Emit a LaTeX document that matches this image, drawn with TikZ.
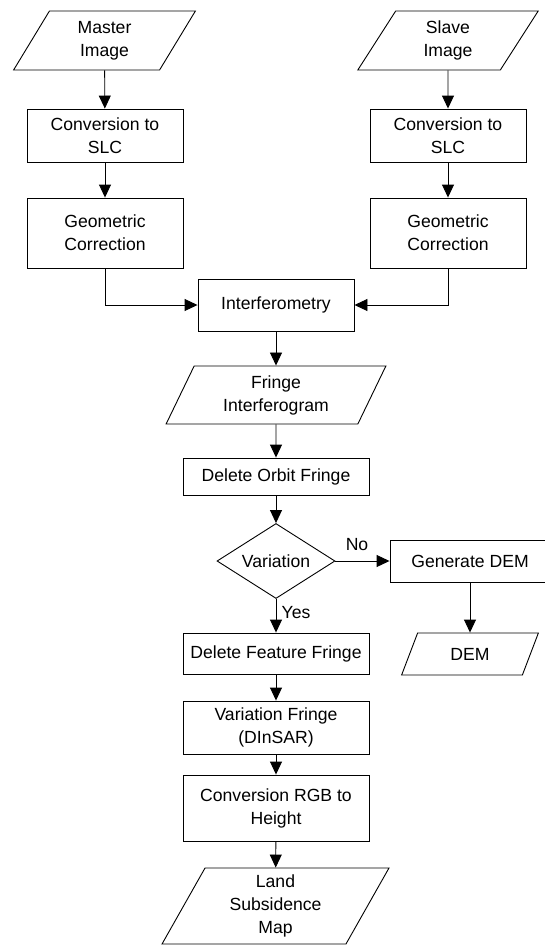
\documentclass[tikz,border=0pt]{standalone}
\usepackage{fontspec}
\setmainfont{Liberation Sans}
\usetikzlibrary{shapes.geometric,arrows.meta}

\begin{document}
\begin{tikzpicture}[x=1pt,y=-1pt,line width=0.9pt,
    every node/.style={font=\fontsize{17.6}{23}\selectfont,align=center,inner sep=1pt},
    proc/.style={rectangle,draw,minimum width=#1},
    io/.style={trapezium,draw,trapezium left angle=66,trapezium right angle=114,trapezium stretches=true,minimum width=#1},
    dec/.style={diamond,draw,aspect=1.6,minimum width=118pt,minimum height=75pt},
    arr/.style={-{Triangle[length=13pt,width=12pt]}}]
    \useasboundingbox (0,0) rectangle (544,945);

    \node[io=183pt,minimum height=59pt] (M) at (104.5,40.5) {Master\\Image};
    \node[io=182pt,minimum height=59pt] (S) at (448,40.5) {Slave\\Image};

    \node[proc=156pt,minimum height=53pt] (C) at (105,135.5) {Conversion to\\SLC};
    \node[proc=156pt,minimum height=53pt] (C1) at (448,135.5) {Conversion to\\SLC};

    \node[proc=156pt,minimum height=70pt] (G) at (105,233) {Geometric\\Correction};
    \node[proc=156pt,minimum height=70pt] (G1) at (448,233) {Geometric\\Correction};

    \node[proc=156pt,minimum height=52pt] (I) at (276,305) {Interferometry};
    \node[io=220pt,minimum height=58pt] (F) at (276,395) {Fringe\\Interferogram};
    \node[proc=186pt,minimum height=37pt] (O) at (276,476.5) {Delete Orbit Fringe};
    \node[dec] (V) at (276,561) {Variation};

    \node[proc=160pt,minimum height=42pt] (E) at (470,561) {Generate DEM};
    \node[io=137pt,minimum height=42pt] (D) at (470,654) {DEM};

    \node[proc=186pt,minimum height=41pt] (R) at (276,653.5) {Delete Feature Fringe};
    \node[proc=186pt,minimum height=53pt] (P) at (276,727.5) {Variation Fringe\\(DInSAR)};
    \node[proc=186pt,minimum height=66pt] (H) at (276,808) {Conversion RGB to\\Height};
    \node[io=227pt,minimum height=76pt] (L) at (275.5,906) {Land\\Subsidence\\Map};

    \node (no) at (357,545) {No};
    \node (yes) at (296,613) {Yes};

    \draw[arr] (M) -- (C);
    \draw[arr] (C) -- (G);
    \draw[arr] (S) -- (C1);
    \draw[arr] (C1) -- (G1);
    \draw[arr] (G) |- (I);
    \draw[arr] (G1) |- (I);
    \draw[arr] (I) -- (F);
    \draw[arr] (F) -- (O);
    \draw[arr] (O) -- (V);
    \draw[arr] (V) -- (E);
    \draw[arr] (E) -- (D);
    \draw[arr] (V) -- (R);
    \draw[arr] (R) -- (P);
    \draw[arr] (P) -- (H);
    \draw[arr] (H) -- (L);
\end{tikzpicture}
\end{document}
